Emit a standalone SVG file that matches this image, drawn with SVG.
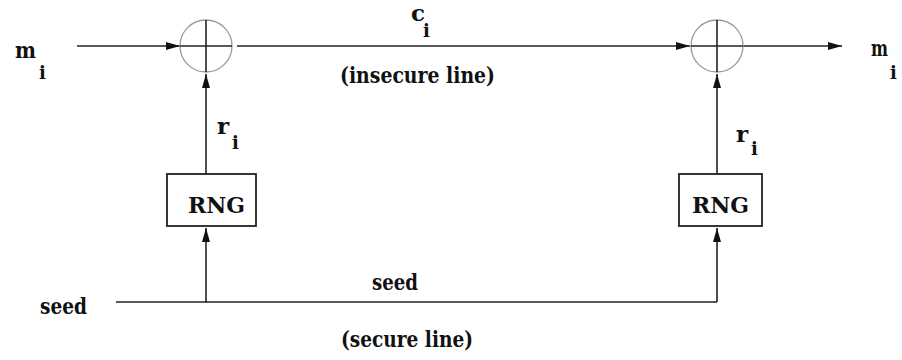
<svg xmlns="http://www.w3.org/2000/svg" width="902" height="360" viewBox="0 0 902 360">
<style>
text{font-family:"DejaVu Serif","Liberation Serif",serif;fill:#111;font-weight:bold;}
.t{font-size:23px;}
.s{font-size:18px;}
.ln{stroke:#222;stroke-width:1.6;fill:none;}
.xor{stroke:#999;stroke-width:1.3;fill:#fff;}
.box{stroke:#222;stroke-width:1.8;fill:#fff;}
</style>
<defs>
<marker id="ah" markerUnits="userSpaceOnUse" markerWidth="14" markerHeight="8" refX="14" refY="4" orient="auto">
<path d="M0,0 L14,4 L0,8 z" fill="#111"/>
</marker>
</defs>
<g id="connectors">
<line class="ln" x1="77" y1="46" x2="180" y2="46" marker-end="url(#ah)"/>
<line class="ln" x1="237" y1="46" x2="690" y2="46" marker-end="url(#ah)"/>
<line class="ln" x1="743" y1="46" x2="842" y2="46" marker-end="url(#ah)"/>
<line class="ln" x1="206" y1="174" x2="206" y2="74" marker-end="url(#ah)"/>
<line class="ln" x1="717" y1="174" x2="717" y2="74" marker-end="url(#ah)"/>
<line class="ln" x1="116" y1="302" x2="717" y2="302"/>
<line class="ln" x1="206" y1="302" x2="206" y2="228" marker-end="url(#ah)"/>
<line class="ln" x1="717" y1="302" x2="717" y2="228" marker-end="url(#ah)"/>
</g>
<g id="xor1">
<circle class="xor" cx="206" cy="46" r="26"/>
<line class="ln" x1="206" y1="20" x2="206" y2="72"/>
<line class="ln" x1="180" y1="46" x2="232" y2="46"/>
</g>
<g id="xor2">
<circle class="xor" cx="717" cy="46" r="26"/>
<line class="ln" x1="717" y1="20" x2="717" y2="72"/>
<line class="ln" x1="691" y1="46" x2="743" y2="46"/>
</g>
<g id="rng1">
<rect class="box" x="167" y="174" width="89" height="52"/>
<text class="t" x="188" y="213" textLength="57" lengthAdjust="spacingAndGlyphs">RNG</text>
</g>
<g id="rng2">
<rect class="box" x="679" y="174" width="83" height="52"/>
<text class="t" x="692" y="213" textLength="57" lengthAdjust="spacingAndGlyphs">RNG</text>
</g>
<g id="labels">
<text class="t" x="15" y="58" textLength="21" lengthAdjust="spacingAndGlyphs">m</text><text class="s" x="39" y="79">i</text>
<text class="t" x="871" y="56" textLength="17" lengthAdjust="spacingAndGlyphs">m</text><text class="s" x="890" y="79">i</text>
<text class="t" x="411" y="21">c</text><text class="s" x="423" y="37">i</text>
<text class="t" x="340" y="83" textLength="155" lengthAdjust="spacingAndGlyphs">(insecure line)</text>
<text class="t" x="217" y="134">r</text><text class="s" x="232" y="149">i</text>
<text class="t" x="736" y="142">r</text><text class="s" x="751" y="155">i</text>
<text class="t" x="40" y="314" textLength="47" lengthAdjust="spacingAndGlyphs">seed</text>
<text class="t" x="372" y="290" textLength="46" lengthAdjust="spacingAndGlyphs">seed</text>
<text class="t" x="341" y="347" textLength="132" lengthAdjust="spacingAndGlyphs">(secure line)</text>
</g>
</svg>
